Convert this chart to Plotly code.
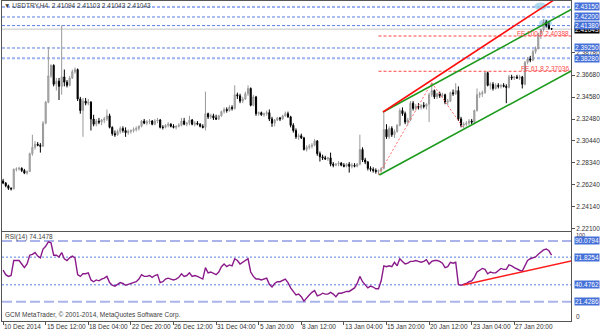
import plotly.graph_objects as go
from plotly.subplots import make_subplots

# ---------------- data ----------------
bar_idx = list(range(207))

open_ = [
 2.2660,2.2640,2.2615,2.2590,2.2585,2.2770,2.2775,2.2780,2.2760,2.2735,
 2.2750,2.2920,2.2980,2.3010,2.3000,2.2990,2.3210,2.3410,2.3660,2.3760,
 2.3580,2.3610,2.3560,2.3650,2.3600,2.3570,2.3640,2.3700,2.3720,2.3440,
 2.3330,2.3420,2.3400,2.3410,2.3250,2.3200,2.3230,2.3220,2.3240,2.3250,
 2.3280,2.3170,2.3110,2.3100,2.3130,2.3160,2.3140,2.3120,2.3130,2.3140,
 2.3150,2.3160,2.3180,2.3230,2.3210,2.3220,2.3230,2.3200,2.3230,2.3240,
 2.3170,2.3170,2.3190,2.3200,2.3180,2.3170,2.3180,2.3190,2.3230,2.3200,
 2.3210,2.3240,2.3200,2.3210,2.3200,2.3180,2.3170,2.3300,2.3270,2.3280,
 2.3260,2.3250,2.3280,2.3320,2.3340,2.3330,2.3360,2.3350,2.3480,2.3470,
 2.3420,2.3440,2.3490,2.3540,2.3380,2.3460,2.3300,2.3310,2.3290,2.3300,
 2.3310,2.3250,2.3210,2.3240,2.3260,2.3250,2.3280,2.3300,2.3270,2.3190,
 2.3140,2.3080,2.3090,2.3070,2.2960,2.2980,2.2990,2.3000,2.3040,2.2920,
 2.2890,2.2880,2.2870,2.2880,2.2820,2.2810,2.2820,2.2830,2.2810,2.2800,
 2.2820,2.2800,2.2810,2.2800,2.2820,2.2960,2.2860,2.2840,2.2780,2.2770,
 2.2760,2.2750,2.2760,2.2780,2.3150,2.3080,2.3160,2.3100,2.3130,2.3190,
 2.3330,2.3300,2.3220,2.3240,2.3400,2.3350,2.3370,2.3360,2.3380,2.3370,
 2.3390,2.3480,2.3520,2.3460,2.3490,2.3470,2.3480,2.3410,2.3420,2.3500,
 2.3490,2.3520,2.3250,2.3190,2.3200,2.3210,2.3230,2.3220,2.3330,2.3480,
 2.3490,2.3500,2.3690,2.3570,2.3580,2.3540,2.3570,2.3560,2.3570,2.3560,
 2.3550,2.3650,2.3640,2.3650,2.3640,2.3650,2.3580,2.3790,2.3820,2.3810,
 2.3890,2.3920,2.4060,2.4100,2.4170,2.4140,2.41094]

high = [
 2.2680,2.2650,2.2625,2.2600,2.2780,2.2790,2.2795,2.2790,2.2775,2.2760,
 2.2930,2.3100,2.3040,2.3030,2.3020,2.3230,2.3420,2.3935,2.3770,2.3770,
 2.3640,2.3640,2.4140,2.3720,2.3620,2.3660,2.3720,2.3740,2.3730,2.3460,
 2.3450,2.3450,2.3440,2.3420,2.3290,2.3250,2.3260,2.3250,2.3270,2.3340,
 2.3300,2.3180,2.3140,2.3150,2.3180,2.3180,2.3170,2.3150,2.3150,2.3170,
 2.3180,2.3190,2.3240,2.3250,2.3240,2.3250,2.3240,2.3250,2.3260,2.3250,
 2.3190,2.3200,2.3220,2.3210,2.3200,2.3190,2.3210,2.3260,2.3260,2.3220,
 2.3280,2.3250,2.3230,2.3230,2.3210,2.3200,2.3510,2.3310,2.3300,2.3300,
 2.3290,2.3290,2.3330,2.3360,2.3360,2.3380,2.3380,2.3570,2.3500,2.3490,
 2.3460,2.3510,2.3570,2.3550,2.3480,2.3470,2.3320,2.3320,2.3310,2.3330,
 2.3340,2.3270,2.3250,2.3270,2.3270,2.3290,2.3320,2.3320,2.3280,2.3210,
 2.3160,2.3110,2.3110,2.3080,2.3000,2.3010,2.3020,2.3060,2.3050,2.2940,
 2.2910,2.2900,2.2890,2.2930,2.2840,2.2830,2.2850,2.2840,2.2830,2.2830,
 2.2840,2.2830,2.2830,2.2830,2.3100,2.2980,2.2880,2.2850,2.2800,2.2790,
 2.2780,2.2770,2.2790,2.3310,2.3200,2.3180,2.3180,2.3150,2.3200,2.3350,
 2.3360,2.3320,2.3260,2.3420,2.3420,2.3390,2.3400,2.3390,2.3410,2.3400,
 2.3500,2.3595,2.3530,2.3500,2.3510,2.3500,2.3490,2.3440,2.3510,2.3530,
 2.3590,2.3560,2.3270,2.3220,2.3230,2.3250,2.3250,2.3340,2.3540,2.3510,
 2.3520,2.3700,2.3700,2.3600,2.3600,2.3590,2.3590,2.3580,2.3590,2.3580,
 2.3670,2.3670,2.3660,2.3670,2.3670,2.3660,2.3800,2.3840,2.3850,2.3910,
 2.3940,2.4070,2.4110,2.4200,2.4190,2.4175,2.41103]

low = [
 2.2630,2.2600,2.2575,2.2570,2.2580,2.2750,2.2760,2.2745,2.2725,2.2720,
 2.2745,2.2900,2.2960,2.2990,2.2930,2.2985,2.3200,2.3400,2.3640,2.3560,
 2.3520,2.3430,2.3480,2.3560,2.3550,2.3560,2.3630,2.3680,2.3420,2.3300,
 2.3080,2.3380,2.3380,2.3140,2.3180,2.3180,2.3200,2.3190,2.3210,2.3230,
 2.3160,2.3090,2.3080,2.3090,2.3110,2.3120,2.3080,2.3100,2.3110,2.3120,
 2.3130,2.3140,2.3170,2.3200,2.3190,2.3200,2.3190,2.3190,2.3210,2.3160,
 2.3150,2.3160,2.3170,2.3170,2.3160,2.3150,2.3170,2.3180,2.3190,2.3180,
 2.3190,2.3190,2.3180,2.3190,2.3170,2.3160,2.3140,2.3250,2.3250,2.3240,
 2.3240,2.3240,2.3270,2.3300,2.3310,2.3320,2.3330,2.3340,2.3440,2.3400,
 2.3400,2.3430,2.3470,2.3370,2.3370,2.3280,2.3280,2.3280,2.3270,2.3280,
 2.3230,2.3175,2.3180,2.3230,2.3230,2.3240,2.3270,2.3260,2.3170,2.3120,
 2.3060,2.3050,2.3060,2.2950,2.2940,2.2960,2.2970,2.2990,2.2900,2.2845,
 2.2860,2.2860,2.2850,2.2800,2.2790,2.2800,2.2800,2.2800,2.2790,2.2790,
 2.2740,2.2780,2.2790,2.2790,2.2810,2.2840,2.2820,2.2760,2.2750,2.2740,
 2.2730,2.2718,2.2740,2.2770,2.3060,2.3060,2.3080,2.3070,2.3120,2.3180,
 2.3280,2.3200,2.3190,2.3230,2.3330,2.3330,2.3340,2.3340,2.3350,2.3340,
 2.3220,2.3460,2.3440,2.3440,2.3450,2.3450,2.3390,2.3380,2.3410,2.3470,
 2.3480,2.3230,2.3170,2.3161,2.3180,2.3190,2.3200,2.3200,2.3320,2.3450,
 2.3460,2.3490,2.3560,2.3530,2.3520,2.3530,2.3540,2.3540,2.3550,2.3400,
 2.3540,2.3620,2.3620,2.3630,2.3620,2.3540,2.3570,2.3770,2.3790,2.3800,
 2.3870,2.3910,2.4010,2.4080,2.4120,2.4100,2.41043]

close = [
 2.2640,2.2615,2.2590,2.2585,2.2770,2.2775,2.2780,2.2760,2.2735,2.2750,
 2.2920,2.2980,2.3010,2.3000,2.2990,2.3210,2.3410,2.3660,2.3760,2.3580,
 2.3610,2.3560,2.3650,2.3600,2.3570,2.3640,2.3700,2.3720,2.3440,2.3330,
 2.3420,2.3400,2.3410,2.3250,2.3200,2.3230,2.3220,2.3240,2.3250,2.3280,
 2.3170,2.3110,2.3100,2.3130,2.3160,2.3140,2.3120,2.3130,2.3140,2.3150,
 2.3160,2.3180,2.3230,2.3210,2.3220,2.3230,2.3200,2.3230,2.3240,2.3170,
 2.3170,2.3190,2.3200,2.3180,2.3170,2.3180,2.3190,2.3230,2.3200,2.3210,
 2.3240,2.3200,2.3210,2.3200,2.3180,2.3170,2.3300,2.3270,2.3280,2.3260,
 2.3250,2.3280,2.3320,2.3340,2.3330,2.3360,2.3350,2.3480,2.3470,2.3420,
 2.3440,2.3490,2.3540,2.3380,2.3460,2.3300,2.3310,2.3290,2.3300,2.3310,
 2.3250,2.3210,2.3240,2.3260,2.3250,2.3280,2.3300,2.3270,2.3190,2.3140,
 2.3080,2.3090,2.3070,2.2960,2.2980,2.2990,2.3000,2.3040,2.2920,2.2890,
 2.2880,2.2870,2.2880,2.2820,2.2810,2.2820,2.2830,2.2810,2.2800,2.2820,
 2.2800,2.2810,2.2800,2.2820,2.2960,2.2860,2.2840,2.2780,2.2770,2.2760,
 2.2750,2.2760,2.2780,2.3150,2.3080,2.3160,2.3100,2.3130,2.3190,2.3330,
 2.3300,2.3220,2.3240,2.3400,2.3350,2.3370,2.3360,2.3380,2.3370,2.3390,
 2.3480,2.3520,2.3460,2.3490,2.3470,2.3480,2.3410,2.3420,2.3500,2.3490,
 2.3520,2.3250,2.3190,2.3200,2.3210,2.3230,2.3220,2.3330,2.3480,2.3490,
 2.3500,2.3690,2.3570,2.3580,2.3540,2.3570,2.3560,2.3570,2.3560,2.3550,
 2.3650,2.3640,2.3650,2.3640,2.3650,2.3580,2.3790,2.3820,2.3810,2.3890,
 2.3920,2.4060,2.4100,2.4170,2.4140,2.41094,2.41043]

rsi = [
 57,52,50,51,68,68,68,64,60,64,
 74,75,77,73,71,81,84,89,88,74,
 74,72,77,70,68,71,73,71,52,50,
 53,53,54,46,44,46,45,47,48,50,
 43,40,39,41,43,42,40,41,42,43,
 44,47,52,50,50,51,49,51,52,43,
 44,47,48,47,46,47,49,53,50,51,
 54,50,51,50,48,47,60,54,55,53,
 52,55,61,64,61,63,62,70,68,64,
 66,68,70,55,50,47,47,46,47,48,
 41,38,42,44,44,46,47,43,37,33,
 29,30,27,22,26,29,32,34,28,29,
 31,30,30,32,30,27,31,31,32,33,
 33,35,37,42,50,44,40,37,39,38,
 36,36,45,62,61,62,61,66,62,70,
 67,64,65,67,67,68,67,66,67,69,
 64,67,68,68,67,65,60,61,66,65,
 66,41,40,41,42,44,45,49,55,57,
 59,58,53,55,54,54,57,59,58,58,
 63,62,60,58,57,56,63,68,70,71,
 72,75,78,80,81,79,74.1478]

x_tick_pos = [0, 16, 32, 48, 64, 80, 96, 112, 128, 144, 160, 176, 192]
x_tick_labels = ["10 Dec 2014", "15 Dec 12:00", "18 Dec 04:00", "22 Dec 20:00",
                 "26 Dec 12:00", "31 Dec 04:00", "5 Jan 20:00", "8 Jan 12:00",
                 "13 Jan 04:00", "15 Jan 20:00", "20 Jan 12:00", "23 Jan 04:00",
                 "27 Jan 20:00"]
price_ticks = [2.22100, 2.24140, 2.26240, 2.28340, 2.30440, 2.32480,
               2.34580, 2.36680, 2.38780]

hlines_thick = [2.43150, 2.38280]
hlines_thin = [2.42200, 2.41380, 2.39250]
bid_price = 2.41043

fe_names = ["FE 100.0", "FE 61.8"]
fe_values = [2.40388, 2.37036]
fe_x = [141.0, 161.0, 173.0]          # bars of points A, B, C
fe_y = [2.27175, 2.35950, 2.31613]    # prices of A, B, C

green_up_x, green_up_y = [142.7, 213.4], [2.3316, 2.4292]
green_lo_x, green_lo_y = [141.3, 213.4], [2.2717, 2.3706]
red_x, red_y = [142.7, 213.4], [2.3316, 2.4490]

ell_cx = [201.9, 203.7]
ell_cy = [2.4321, 2.4160]
ell_rx = [2.4, 2.4]
ell_ry = [0.0036, 0.0039]

rsi_dash_levels = [90.0794, 21.4286]
rsi_dot_levels = [71.8254, 40.4762]
rsi_trend_x, rsi_trend_y = [172.8, 213.4], [40.3, 67.5]

title_text = "▼ USDTRY,H4  2.41094 2.41103 2.41043 2.41043"

# ---------------- figure ----------------
FONT = "Liberation Sans"
FS = 6.5
BLUE = "#4470d8"
XR = [-0.41, 213.3]

fig = make_subplots(rows=2, cols=1, shared_xaxes=True, vertical_spacing=0.0)

fig.add_trace(go.Candlestick(
    x=bar_idx, open=open_, high=high, low=low, close=close,
    increasing=dict(line=dict(color="#9a9a9a", width=1), fillcolor="#b8b8b8"),
    decreasing=dict(line=dict(color="#000000", width=1), fillcolor="#000000"),
    whiskerwidth=0, showlegend=False, hoverinfo="skip"), row=1, col=1)

def seg(xs, ys, color, width, dash="solid", row=1):
    fig.add_trace(go.Scatter(x=xs, y=ys, mode="lines",
                             line=dict(color=color, width=width, dash=dash),
                             showlegend=False, hoverinfo="skip"), row=row, col=1)

# FE construction lines (A-B, B-C)
seg(fe_x[:2], fe_y[:2], "#ff6a6a", 1, "2px,2px")
seg(fe_x[1:], fe_y[1:], "#ff6a6a", 1, "2px,2px")
# FE levels
for v in fe_values:
    seg([fe_x[0], XR[1]], [v, v], "#ff4545", 1, "3px,2px")
# channel & red line
seg(green_lo_x, green_lo_y, "#1a9a1a", 1.6)
seg(green_up_x, green_up_y, "#1a9a1a", 1.6)
seg(red_x, red_y, "#ff1010", 1.6)

# RSI
seg(bar_idx, rsi, "#8a1a8a", 1.4, row=2)
seg(rsi_trend_x, rsi_trend_y, "#ff1a1a", 1.5, row=2)

shapes = []
for v in hlines_thick:
    shapes.append(dict(type="line", xref="paper", x0=0, x1=1, yref="y", y0=v, y1=v,
                       line=dict(color="#9fb3f0", width=2, dash="3px,2px"), layer="below"))
for v in hlines_thin:
    shapes.append(dict(type="line", xref="paper", x0=0, x1=1, yref="y", y0=v, y1=v,
                       line=dict(color="#5a7de2", width=1, dash="3px,2px"), layer="below"))
shapes.append(dict(type="line", xref="paper", x0=0, x1=1, yref="y", y0=bid_price, y1=bid_price,
                   line=dict(color="#c4c4c4", width=1), layer="below"))
for cx, cy, rx, ry in zip(ell_cx, ell_cy, ell_rx, ell_ry):
    shapes.append(dict(type="circle", xref="x", yref="y", x0=cx - rx, x1=cx + rx,
                       y0=cy - ry, y1=cy + ry, fillcolor="rgba(150,205,232,0.75)",
                       line=dict(width=0), layer="below"))
for v in rsi_dash_levels:
    shapes.append(dict(type="line", xref="paper", x0=0, x1=1, yref="y2", y0=v, y1=v,
                       line=dict(color="#aab4ea", width=2, dash="10px,4px"), layer="below"))
for v in rsi_dot_levels:
    shapes.append(dict(type="line", xref="paper", x0=0, x1=1, yref="y2", y0=v, y1=v,
                       line=dict(color="#5a7de2", width=1, dash="2px,2px"), layer="below"))

ann = []
def txt(text, x, y, xref, yref, xanchor="left", yanchor="middle", color="#333333",
        bg=None, xshift=0, yshift=0, size=FS):
    d = dict(text=text, x=x, y=y, xref=xref, yref=yref, xanchor=xanchor, yanchor=yanchor,
             showarrow=False, font=dict(family=FONT, size=size, color=color),
             xshift=xshift, yshift=yshift, borderpad=0)
    if bg:
        d["bgcolor"] = bg
    ann.append(d)

txt(title_text, 0, 1, "paper", "paper", yanchor="top", xshift=1, color="#404040")
txt("RSI(14) 74.1478", 0, 0.2766, "paper", "paper", yanchor="top", xshift=2, color="#404040")
txt("GCM MetaTrader, © 2001-2014, MetaQuotes Software Corp.", 0, 0, "paper", "paper",
    yanchor="bottom", xshift=2, yshift=1, color="#404040")
for p, lab in zip(x_tick_pos, x_tick_labels):
    txt(lab, p, 0, "x2", "paper", yanchor="top", xshift=0, yshift=-1)
for nm, v in zip(fe_names, fe_values):
    txt(f"{nm} {v:.5f}", 1, v, "paper", "y", xanchor="right", yanchor="bottom",
        color="#ff4545", xshift=-1, yshift=-2)
txt("100", 1, 96.8, "paper", "y2", xshift=4, size=5.5)
txt("0", 1, 5.0, "paper", "y2", xshift=4)
txt(f"{bid_price:.5f}", 1, bid_price, "paper", "y", color="#ffffff", bg="#000000", xshift=3)
for v in hlines_thick + hlines_thin:
    txt(f"{v:.5f}", 1, v, "paper", "y", color="#ffffff", bg=BLUE, xshift=3)
for v in rsi_dash_levels + rsi_dot_levels:
    txt(f"{v:.4f}", 1, v, "paper", "y2", color="#ffffff", bg=BLUE, xshift=3)

axis_common = dict(showgrid=False, zeroline=False, showline=True, mirror=True,
                   linecolor="#555555", linewidth=1)

fig.update_layout(
    width=600, height=333,
    margin=dict(l=2, r=29, t=1, b=12, autoexpand=False),
    paper_bgcolor="white", plot_bgcolor="white",
    showlegend=False, boxgap=0.4,
    shapes=shapes, annotations=ann,
    font=dict(family=FONT, size=FS, color="#333333"),
    xaxis=dict(range=XR, rangeslider=dict(visible=False), showticklabels=False,
               ticks="", **axis_common),
    xaxis2=dict(range=XR, tickvals=x_tick_pos, ticks="outside", ticklen=3,
                tickcolor="#555555", showticklabels=False, **axis_common),
    yaxis=dict(domain=[0.2828, 1.0], range=[2.2189, 2.4372], side="right",
               tickvals=price_ticks, ticktext=[f"{v:.5f}" for v in price_ticks],
               ticks="outside", ticklen=3, tickcolor="#555555",
               tickfont=dict(family=FONT, size=FS, color="#333333"),
               automargin=False, **axis_common),
    yaxis2=dict(domain=[0.0, 0.2766], range=[-0.45, 99.7], side="right",
                showticklabels=False, ticks="", automargin=False, **axis_common),
)

fig.write_html("out.html")
